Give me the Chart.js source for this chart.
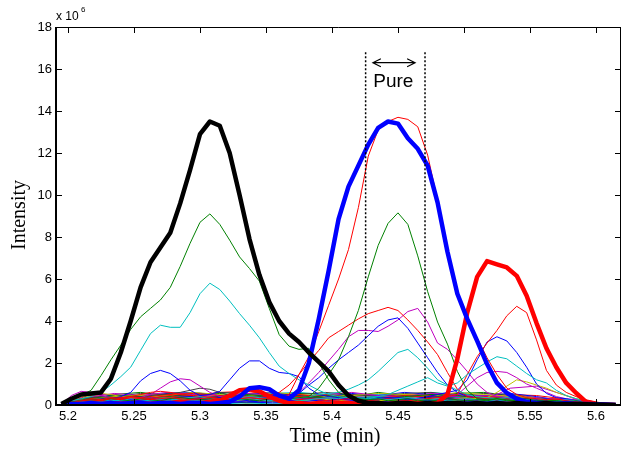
<!DOCTYPE html>
<html>
<head>
<meta charset="utf-8">
<script src="https://cdn.jsdelivr.net/npm/chart.js@4.4.1/dist/chart.umd.min.js"></script>
<style>
  html, body { margin: 0; padding: 0; background: #fff; }
  #wrap { width: 623px; height: 452px; }
</style>
</head>
<body>
<div id="wrap"><canvas id="chart" width="623" height="452"></canvas></div>
<script>
// retention time (min) and intensities (x 10^6)
const tMain = [5.195, 5.2025, 5.21, 5.2175, 5.225, 5.2325, 5.24, 5.2475, 5.255, 5.2625,
  5.27, 5.2775, 5.285, 5.2925, 5.3, 5.3075, 5.315, 5.3225, 5.33, 5.3375,
  5.345, 5.3525, 5.36, 5.3675, 5.375, 5.3825, 5.39, 5.3975, 5.405, 5.4125,
  5.42, 5.4275, 5.435, 5.4425, 5.45, 5.4575, 5.465, 5.4725, 5.48, 5.4875,
  5.495, 5.5025, 5.51, 5.5175, 5.525, 5.5325, 5.54, 5.5475, 5.555, 5.5625,
  5.57, 5.5775, 5.585, 5.5925, 5.6, 5.6075, 5.615];
const tNoise = [5.195, 5.215, 5.235, 5.255, 5.275, 5.295, 5.315, 5.335, 5.355, 5.375, 5.395,
  5.415, 5.435, 5.455, 5.475, 5.495, 5.515, 5.535, 5.555, 5.575, 5.595, 5.615];

// the three bold traces
const blackThick = [.05,.3,.5,.55,.6,1.25,2.5,4.0,5.6,6.8,7.5,8.2,9.6,11.2,12.9,13.5,13.3,12.0,10.0,7.9,
  6.2,4.9,4.0,3.4,3.0,2.5,2.05,1.6,.95,.45,.2,.1,.1,.05,.1,.1,.05,.1,.05,.1,
  .1,.05,.1,.05,.1,.05,.1,.05,.05,.1,.05,.05,.05,.03,.02,.01,0];
const blueThick = [0,.05,.05,.1,.05,.1,.05,.1,.1,.05,.1,.1,.05,.1,.1,.05,.1,.15,.4,.8,
  .85,.75,.45,.3,.7,2.0,4.1,6.4,8.85,10.4,11.4,12.4,13.2,13.5,13.4,12.7,12.2,11.4,9.65,7.3,
  5.3,4.1,3.05,1.95,1.05,.57,.3,.15,.1,.1,.05,.1,.05,.05,.03,.02,0];
const redThick = [0,.05,.05,.1,.05,.1,.05,.1,.1,.05,.1,.1,.15,.1,.1,.15,.2,.45,.7,.75,
  .65,.4,.2,.1,.1,.05,.1,.05,.1,.1,.05,.1,.05,.05,.1,.05,.1,.05,.1,.5,
  2.2,4.4,6.1,6.85,6.7,6.55,6.15,5.2,3.9,2.7,1.8,1.05,.57,.15,.05,.02,0];

// thin traces with visible peaks
const green1 = [.05,.3,.45,.7,1.4,2.15,2.85,3.6,4.2,4.6,5.0,5.6,6.6,7.7,8.7,9.1,8.6,7.85,7.05,6.5,
  5.9,4.6,3.35,2.8,2.65,2.7,2.0,1.2,.6,.4,.3,.25,.3,.2,.25,.3,.2,.25,.2,.3,
  .25,.2,.25,.2,.3,.25,.2,.15,.2,.25,.2,.15,.1,.1,.05,.05,0];
const green2 = [0,.15,.2,.25,.2,.3,.25,.2,.3,.25,.2,.3,.35,.3,.25,.3,.2,.25,.3,.25,
  .2,.3,.25,.3,.35,.4,.8,1.45,2.15,3.25,4.5,6.1,7.6,8.65,9.15,8.6,7.1,5.4,3.95,2.9,
  1.6,.7,.3,.25,.3,.2,.25,.3,.2,.25,.2,.15,.2,.1,.1,.05,0];
const cyan1 = [.05,.2,.3,.4,.6,.95,1.35,1.8,2.6,3.4,3.8,3.7,3.7,4.4,5.3,5.8,5.5,4.95,4.35,3.8,
  3.2,2.5,1.85,1.5,1.2,.95,.7,.5,.4,.35,.3,.35,.3,.25,.3,.35,.3,.25,.3,.2,
  .25,.3,.25,.2,.25,.2,.3,.25,.2,.15,.2,.15,.1,.1,.05,.05,0];
const cyan2 = [0,.1,.2,.15,.2,.25,.2,.3,.25,.2,.3,.25,.3,.35,.4,.3,.25,.3,.35,.4,
  .35,.3,.25,.3,.35,.4,.5,.55,.6,.75,.95,1.2,1.6,2.05,2.5,2.65,2.25,1.75,1.2,.95,
  .7,.5,.4,.35,.3,.35,.3,.25,.3,.25,.2,.25,.2,.15,.1,.05,0];
const cyan3 = [0,.1,.15,.2,.15,.2,.25,.2,.15,.2,.25,.2,.3,.25,.2,.25,.3,.2,.25,.3,
  .25,.2,.25,.3,.2,.25,.3,.35,.3,.4,.35,.3,.4,.5,.7,.9,1.1,1.3,1.05,.9,
  1.05,1.45,1.75,2.05,2.3,2.2,1.85,1.5,1.2,1.05,.7,.45,.3,.2,.1,.05,0];
const red1 = [0,.1,.2,.25,.2,.3,.25,.35,.3,.25,.3,.35,.3,.25,.3,.35,.3,.25,.3,.35,
  .3,.3,.35,.5,1.45,2.3,3.5,4.75,6.0,7.4,9.4,11.85,13.1,13.5,13.7,13.6,13.25,11.9,9.75,7.5,
  5.4,4.15,3.2,2.25,1.45,.8,.5,.35,.3,.25,.3,.2,.15,.1,.1,.05,0];
const red2 = [0,.15,.2,.3,.25,.35,.3,.4,.35,.3,.4,.45,.35,.3,.4,.35,.3,.4,.45,.4,
  .35,.45,.6,.95,1.45,2.05,2.6,3.2,3.5,3.8,4.1,4.35,4.5,4.65,4.5,4.05,3.55,3.0,2.4,1.55,
  .75,.4,.35,.3,.25,.3,.2,.25,.3,.2,.25,.2,.15,.1,.1,.05,0];
const red3 = [0,.1,.15,.2,.25,.3,.35,.4,.5,.6,.65,.6,.5,.45,.4,.35,.3,.35,.4,.3,
  .25,.3,.35,.3,.25,.3,.25,.2,.25,.3,.25,.2,.25,.3,.25,.2,.25,.3,.35,.4,
  .5,1.45,2.3,2.95,3.55,4.25,4.7,4.4,3.1,1.65,.95,.6,.4,.25,.15,.05,0];
const blue1 = [0,.1,.15,.2,.25,.2,.3,.25,.2,.3,.25,.3,.35,.3,.25,.3,.35,.3,.25,.3,
  .35,.4,.45,.5,.55,.95,1.3,1.75,2.15,2.5,2.85,3.3,3.75,4.05,4.15,3.65,2.95,2.25,1.55,.95,
  .6,.4,.35,.3,.25,.3,.25,.2,.25,.3,.2,.15,.2,.1,.1,.05,0];
const blue2 = [0,.1,.15,.2,.15,.2,.25,.2,.25,.2,.3,.25,.2,.25,.3,.25,.2,.3,.25,.2,
  .25,.3,.25,.2,.25,.3,.25,.2,.3,.25,.2,.25,.3,.35,.3,.25,.3,.4,.5,.6,
  .7,1.2,2.15,3.0,3.25,3.05,2.5,1.8,1.0,.55,.35,.3,.2,.15,.1,.05,0];
const blue3 = [0,.1,.15,.2,.25,.3,.4,.6,1.15,1.5,1.65,1.5,1.15,.7,.45,.5,.65,1.2,1.75,2.1,
  2.1,1.75,1.55,1.5,1.35,.8,.5,.4,.35,.3,.35,.3,.25,.3,.35,.3,.25,.2,.25,.3,
  .25,.2,.25,.3,.25,.2,.25,.2,.15,.2,.15,.1,.1,.05,.05,.02,0];
const mag1 = [0,.45,.65,.6,.45,.35,.3,.3,.35,.5,.8,1.1,1.25,1.2,.9,.6,.4,.35,.3,.35,
  .3,.25,.3,.35,.3,.25,.3,.35,.3,.25,.3,.2,.25,.3,.25,.2,.3,.25,.2,.25,
  .3,.25,.2,.25,.3,.25,.2,.15,.2,.15,.1,.15,.1,.05,.05,.02,0];
const mag2 = [0,.1,.2,.25,.2,.3,.25,.2,.3,.35,.3,.25,.3,.35,.3,.25,.3,.35,.4,.35,
  .3,.35,.4,.45,.6,1.05,1.55,2.1,2.65,3.25,3.55,3.55,3.5,3.75,4.05,4.45,4.6,3.95,2.95,2.65,
  2.15,1.6,1.0,.6,.4,.35,.3,.25,.3,.25,.2,.25,.2,.15,.1,.05,0];
const mag3 = [0,.1,.15,.2,.2,.25,.2,.25,.3,.25,.2,.25,.3,.35,.3,.25,.2,.25,.3,.25,
  .2,.3,.25,.2,.25,.3,.25,.2,.25,.3,.35,.3,.25,.3,.35,.3,.25,.3,.35,.4,
  .5,.9,1.3,1.55,1.6,1.55,1.3,1.0,.8,.6,.4,.3,.25,.15,.1,.05,0];
const yellow1 = [0,.2,.4,.5,.55,.5,.4,.35,.3,.25,.3,.35,.3,.25,.3,.25,.2,.25,.3,.25,
  .2,.25,.3,.25,.2,.25,.3,.25,.2,.25,.3,.25,.2,.25,.3,.25,.2,.25,.3,.25,
  .3,.35,.3,.35,.6,.9,1.2,1.1,.95,.8,.6,.45,.3,.2,.1,.05,0];
const gray1 = [0,.2,.3,.35,.4,.35,.3,.35,.4,.45,.5,.55,.6,.7,.8,.75,.6,.45,.4,.35,
  .3,.35,.4,.35,.3,.35,.3,.25,.3,.35,.3,.25,.3,.35,.3,.25,.3,.35,.4,.35,
  .3,.35,.3,.25,.3,.35,.3,.25,.2,.25,.2,.15,.1,.1,.05,.05,0];

// the low background band of ion traces
const noiseTraces = [
  [0,.25,.3,.2,.35,.4,.3,.25,.45,.3,.2,.3,.35,.25,.4,.3,.2,.3,.25,.15,.1,0],
  [0,.3,.45,.4,.3,.25,.35,.5,.4,.3,.45,.35,.3,.4,.5,.45,.3,.35,.2,.15,.1,0],
  [0,.2,.3,.35,.5,.55,.45,.35,.3,.4,.5,.35,.3,.45,.35,.3,.4,.35,.25,.2,.1,0],
  [0,.15,.2,.3,.25,.2,.3,.35,.25,.2,.3,.25,.35,.3,.2,.35,.3,.25,.2,.15,.05,0],
  [0,.5,.5,.3,.25,.3,.2,.3,.35,.25,.3,.2,.25,.3,.35,.4,.45,.3,.25,.2,.1,0],
  [0,.3,.4,.45,.35,.3,.25,.2,.3,.35,.25,.3,.2,.25,.3,.2,.35,.5,.3,.2,.1,0],
  [0,.25,.35,.4,.3,.35,.4,.3,.5,.45,.3,.25,.3,.35,.3,.25,.3,.35,.3,.2,.1,0],
  [0,.1,.15,.2,.15,.2,.25,.15,.2,.15,.25,.2,.15,.2,.25,.2,.15,.2,.15,.1,.05,0],
  [0,.2,.25,.3,.4,.35,.3,.25,.35,.4,.35,.3,.25,.2,.3,.35,.3,.25,.3,.2,.1,0],
  [0,.15,.25,.3,.2,.3,.4,.3,.25,.5,.35,.3,.2,.3,.25,.3,.2,.3,.2,.15,.1,0],
  [0,.2,.3,.25,.35,.3,.25,.4,.35,.3,.25,.35,.4,.3,.25,.2,.3,.25,.2,.15,.1,0],
  [0,.1,.2,.15,.25,.2,.15,.2,.25,.3,.2,.15,.25,.2,.3,.25,.2,.8,.9,.5,.05,0],
  [0,.15,.2,.25,.2,.15,.2,.25,.2,.25,.3,.2,.25,.2,.25,.3,.25,.2,.15,.1,.05,0],
  [0,.1,.15,.2,.25,.2,.25,.3,.2,.25,.2,.3,.25,.2,.15,.2,.25,.2,.15,.1,.05,0],
  [0,.05,.1,.1,.15,.1,.1,.15,.1,.15,.1,.1,.15,.1,.1,.15,.1,.1,.1,.05,.03,0],
  [0,.1,.1,.15,.1,.15,.2,.1,.15,.1,.15,.2,.1,.15,.2,.1,.15,.1,.1,.05,.03,0],
  [0,.05,.1,.15,.2,.15,.1,.15,.2,.15,.1,.15,.2,.15,.1,.15,.2,.15,.1,.05,.03,0],
  [0,.05,.05,.1,.05,.1,.05,.1,.05,.1,.05,.1,.05,.1,.05,.1,.05,.1,.05,.05,.02,0],
  [0,.35,.55,.45,.6,.5,.4,.55,.45,.35,.5,.6,.45,.4,.55,.5,.4,.45,.35,.25,.1,0],
  [0,.4,.35,.5,.45,.6,.5,.4,.6,.5,.4,.45,.55,.5,.4,.6,.5,.4,.3,.2,.1,0],
  [0,.3,.4,.55,.5,.4,.6,.55,.45,.5,.6,.5,.4,.55,.6,.45,.55,.5,.35,.25,.1,0],
  [0,.35,.45,.4,.55,.6,.45,.5,.6,.45,.4,.55,.45,.6,.5,.4,.45,.55,.4,.2,.1,0],
  [0,.25,.5,.6,.45,.5,.55,.45,.4,.55,.5,.4,.6,.45,.4,.55,.6,.45,.3,.25,.1,0],
  [0,.45,.4,.35,.5,.45,.6,.65,.5,.4,.45,.5,.4,.5,.45,.55,.4,.5,.45,.3,.1,0],
  [0,.3,.35,.45,.4,.55,.5,.45,.55,.6,.5,.45,.5,.4,.6,.5,.45,.4,.3,.2,.1,0],
  [0,.2,.3,.4,.45,.4,.35,.45,.4,.35,.45,.4,.35,.45,.4,.35,.45,.35,.3,.2,.05,0],
  [0,.35,.3,.25,.35,.45,.4,.3,.4,.45,.35,.4,.45,.35,.3,.4,.35,.45,.3,.2,.1,0],
  [0,.25,.35,.3,.4,.3,.35,.45,.3,.35,.4,.3,.35,.4,.45,.35,.3,.4,.25,.15,.05,0]
];

const xTickLabels = ['5.2', '5.25', '5.3', '5.35', '5.4', '5.45', '5.5', '5.55', '5.6'];
const yTickLabels = ['0', '2', '4', '6', '8', '10', '12', '14', '16', '18'];

// "Pure" window boundaries (min)
const pureStart = 5.4255, pureEnd = 5.4705;

// MATLAB default line colours
const col = { b: '#0000ff', g: '#008000', r: '#ff0000', c: '#00bfbf', m: '#bf00bf', y: '#bfbf00', k: '#404040' };
const cycle = ['b', 'g', 'r', 'c', 'm', 'y', 'k'];

function trace(times, vals, color, width) {
    return {
        data: times.map((t, i) => ({ x: t, y: vals[i] })),
        borderColor: color,
        borderWidth: width,
        borderJoinStyle: width > 2 ? 'round' : 'miter',
        pointRadius: 0,
        fill: false,
        tension: 0
    };
}

const datasets = [
    trace(tMain, blackThick, '#000000', 4.5),
    trace(tMain, blueThick, col.b, 4.5),
    trace(tMain, redThick, col.r, 4.5),
    trace(tMain, red1, col.r, 1),
    trace(tMain, green1, col.g, 1),
    trace(tMain, green2, col.g, 1),
    trace(tMain, cyan1, col.c, 1),
    trace(tMain, cyan2, col.c, 1),
    trace(tMain, cyan3, col.c, 1),
    trace(tMain, red2, col.r, 1),
    trace(tMain, red3, col.r, 1),
    trace(tMain, blue1, col.b, 1),
    trace(tMain, blue2, col.b, 1),
    trace(tMain, blue3, col.b, 1),
    trace(tMain, mag1, col.m, 1),
    trace(tMain, mag2, col.m, 1),
    trace(tMain, mag3, col.m, 1),
    trace(tMain, yellow1, col.y, 1),
    trace(tMain, gray1, col.k, 1)
];
noiseTraces.forEach((vals, i) => {
    datasets.push(trace(tNoise, vals, col[cycle[i % cycle.length]], 1));
});

// frame, inward ticks, pure window, labels
const decor = {
    id: 'decor',
    afterDraw(chart) {
        const ctx = chart.ctx;
        const a = chart.chartArea;
        const xs = chart.scales.x, ys = chart.scales.y;
        ctx.save();
        ctx.strokeStyle = '#000';
        ctx.lineWidth = 1;
        ctx.beginPath();
        xs.ticks.forEach(t => {
            const px = Math.round(xs.getPixelForValue(t.value)) + 0.5;
            ctx.moveTo(px, a.bottom); ctx.lineTo(px, a.bottom - 6);
            ctx.moveTo(px, a.top); ctx.lineTo(px, a.top + 6);
        });
        ys.ticks.forEach(t => {
            const py = Math.round(ys.getPixelForValue(t.value)) + 0.5;
            ctx.moveTo(a.left, py); ctx.lineTo(a.left + 6, py);
            ctx.moveTo(a.right, py); ctx.lineTo(a.right - 6, py);
        });
        ctx.stroke();

        // box
        ctx.lineWidth = 2;
        ctx.beginPath();
        ctx.moveTo(a.left, a.top); ctx.lineTo(a.left, a.bottom); ctx.lineTo(a.right, a.bottom);
        ctx.stroke();
        ctx.lineWidth = 1;
        ctx.beginPath();
        ctx.moveTo(a.left, a.top + 0.5); ctx.lineTo(a.right - 0.5, a.top + 0.5); ctx.lineTo(a.right - 0.5, a.bottom);
        ctx.stroke();

        // dotted window
        ctx.lineWidth = 1.5;
        ctx.setLineDash([2, 2]);
        ctx.beginPath();
        [pureStart, pureEnd].forEach(v => {
            const px = xs.getPixelForValue(v);
            ctx.moveTo(px, ys.getPixelForValue(16.8));
            ctx.lineTo(px, ys.getPixelForValue(0.3));
        });
        ctx.stroke();
        ctx.setLineDash([]);

        // double arrow
        const ay = ys.getPixelForValue(16.3);
        const ax1 = xs.getPixelForValue(5.431), ax2 = xs.getPixelForValue(5.463);
        ctx.lineWidth = 1.2;
        ctx.beginPath();
        ctx.moveTo(ax1, ay); ctx.lineTo(ax2, ay);
        ctx.moveTo(ax1 + 8, ay - 4); ctx.lineTo(ax1, ay); ctx.lineTo(ax1 + 8, ay + 4);
        ctx.moveTo(ax2 - 8, ay - 4); ctx.lineTo(ax2, ay); ctx.lineTo(ax2 - 8, ay + 4);
        ctx.stroke();

        ctx.fillStyle = '#000';
        ctx.textAlign = 'center';
        ctx.textBaseline = 'middle';
        ctx.font = '19px "Liberation Sans", Arial, sans-serif';
        ctx.fillText('Pure', xs.getPixelForValue(5.4465), ys.getPixelForValue(15.4));

        // axis titles
        ctx.font = '20px "Liberation Serif", "Times New Roman", serif';
        ctx.fillText('Time (min)', 335, 437);
        ctx.save();
        ctx.translate(20, 215);
        ctx.rotate(-Math.PI / 2);
        ctx.fillText('Intensity', 0, 0);
        ctx.restore();

        // exponent
        ctx.textAlign = 'left';
        ctx.textBaseline = 'alphabetic';
        ctx.font = '12px "Liberation Sans", Arial, sans-serif';
        ctx.fillText('x 10', 56, 20);
        ctx.font = '8px "Liberation Sans", Arial, sans-serif';
        ctx.fillText('6', 81, 12);
        ctx.restore();
    }
};

const tickFont = { family: '"Liberation Sans", Arial, sans-serif', size: 13 };

new Chart(document.getElementById('chart').getContext('2d'), {
    type: 'line',
    data: { datasets: datasets },
    options: {
        responsive: false,
        animation: false,
        devicePixelRatio: 1,
        layout: { padding: { top: 27, right: 2, left: 0, bottom: 0 } },
        plugins: { legend: { display: false }, tooltip: { enabled: false } },
        scales: {
            x: {
                type: 'linear',
                min: 5.1909,
                max: 5.619,
                grid: { display: false, drawTicks: false },
                border: { display: false },
                ticks: {
                    stepSize: 0.05,
                    includeBounds: false,
                    autoSkip: false,
                    maxRotation: 0,
                    padding: 4,
                    color: '#000',
                    font: tickFont,
                    callback: (v, i) => xTickLabels[i]
                },
                afterFit: s => { s.height = 47; }
            },
            y: {
                min: 0,
                max: 18,
                grid: { display: false, drawTicks: false },
                border: { display: false },
                ticks: {
                    stepSize: 2,
                    padding: 4,
                    color: '#000',
                    font: tickFont,
                    callback: (v, i) => yTickLabels[i]
                },
                afterFit: s => { s.width = 56; }
            }
        }
    },
    plugins: [decor]
});
</script>
</body>
</html>
